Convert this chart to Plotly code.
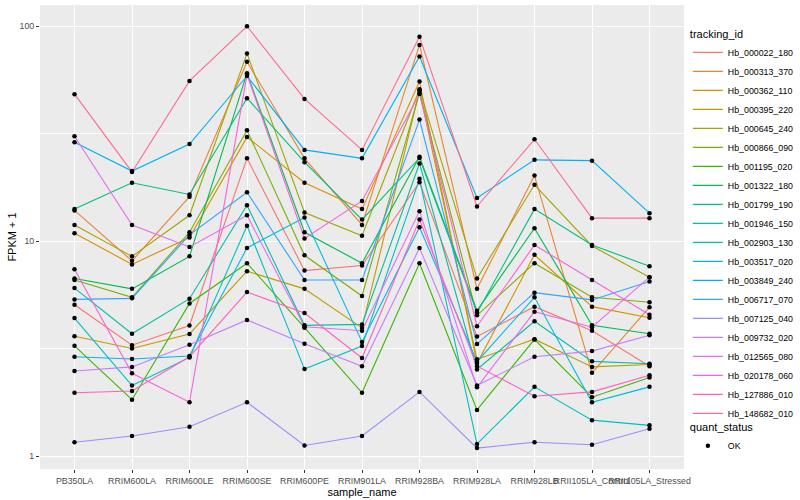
import plotly.graph_objects as go

# ---- data (values are FPKM + 1) ----
samples = ["PB350LA", "RRIM600LA", "RRIM600LE", "RRIM600SE", "RRIM600PE",
           "RRIM901LA", "RRIM928BA", "RRIM928LA", "RRIM928LB",
           "RRII105LA_Control", "RRII105LA_Stressed"]

tracking_ids = ["Hb_000022_180", "Hb_000313_370", "Hb_000362_110", "Hb_000395_220",
                "Hb_000645_240", "Hb_000866_090", "Hb_001195_020", "Hb_001322_180",
                "Hb_001799_190", "Hb_001946_150", "Hb_002903_130", "Hb_003517_020",
                "Hb_003849_240", "Hb_006717_070", "Hb_007125_040", "Hb_009732_020",
                "Hb_012565_080", "Hb_020178_060", "Hb_127886_010", "Hb_148682_010"]

hb_000022_180 = [5.06, 3.28, 4.05, 24.3, 7.3, 7.7, 18.8, 3.6, 4.96, 3.83, 2.62]
hb_000313_370 = [13.9, 8.1, 16.1, 68.4, 24.3, 11.9, 81.9, 6.0, 20.2, 2.44, 4.93]
hb_000362_110 = [10.9, 7.8, 10.4, 30.5, 18.7, 14.1, 55.3, 2.7, 8.65, 4.96, 4.4]
hb_000395_220 = [3.61, 3.17, 3.7, 7.25, 6.0, 3.95, 50.2, 2.82, 3.5, 2.6, 2.67]
hb_000645_240 = [11.9, 8.5, 13.2, 74.8, 13.6, 10.6, 50.9, 6.7, 18.3, 9.5, 6.8]
hb_000866_090 = [6.6, 5.48, 11.0, 32.8, 8.6, 5.56, 49.1, 4.52, 7.9, 5.48, 5.2]
hb_001195_020 = [3.26, 1.83, 5.13, 7.9, 3.96, 1.97, 7.9, 1.64, 3.49, 1.88, 2.32]
hb_001322_180 = [6.7, 6.0, 8.5, 60.5, 11.0, 7.9, 24.7, 4.75, 11.5, 4.06, 3.71]
hb_001799_190 = [14.1, 18.7, 16.5, 46.3, 23.3, 12.6, 24.4, 4.65, 14.1, 9.6, 7.65]
hb_001946_150 = [6.05, 3.71, 5.4, 14.7, 4.06, 4.1, 23.0, 2.53, 4.24, 2.76, 2.69]
hb_002903_130 = [4.39, 2.13, 2.88, 11.8, 2.54, 3.25, 19.5, 1.14, 2.1, 1.47, 1.39]
hb_003517_020 = [2.9, 2.83, 2.92, 9.3, 12.9, 3.4, 11.6, 2.75, 5.48, 1.78, 2.1]
hb_003849_240 = [28.9, 21.2, 28.3, 58.7, 26.6, 24.3, 72.3, 15.9, 23.9, 23.7, 13.5]
hb_006717_070 = [5.36, 5.42, 10.7, 16.9, 6.6, 6.6, 36.8, 3.32, 5.76, 5.33, 6.5]
hb_007125_040 = [1.16, 1.24, 1.37, 1.78, 1.12, 1.24, 1.99, 1.09, 1.16, 1.13, 1.34]
hb_009732_020 = [2.49, 2.6, 3.3, 4.3, 3.33, 2.62, 9.3, 2.13, 2.9, 3.08, 3.65]
hb_012565_080 = [30.8, 11.9, 9.4, 13.2, 4.0, 3.83, 13.8, 2.09, 4.7, 3.98, 6.8]
hb_020178_060 = [7.4, 2.43, 1.78, 59.6, 10.3, 15.4, 48.4, 4.02, 9.6, 6.6, 4.55]
hb_127886_010 = [1.97, 2.01, 2.9, 5.8, 4.63, 2.86, 12.6, 2.62, 1.9, 1.99, 2.38]
hb_148682_010 = [48.3, 21.0, 55.7, 100.0, 45.9, 26.6, 89.3, 14.5, 29.8, 12.8, 12.8]

series_values = [hb_000022_180, hb_000313_370, hb_000362_110, hb_000395_220,
                 hb_000645_240, hb_000866_090, hb_001195_020, hb_001322_180,
                 hb_001799_190, hb_001946_150, hb_002903_130, hb_003517_020,
                 hb_003849_240, hb_006717_070, hb_007125_040, hb_009732_020,
                 hb_012565_080, hb_020178_060, hb_127886_010, hb_148682_010]

y_tick_values = [1, 10, 100]
y_tick_labels = ["1", "10", "100"]
quant_status = "OK"

# ---- styles ----
colors = ["#F8766D", "#EA8331", "#D89000", "#C09B00", "#A3A500", "#7CAE00",
          "#39B600", "#00BB4E", "#00BF7D", "#00C1A3", "#00BFC4", "#00BAE0",
          "#00B0F6", "#35A2FF", "#9590FF", "#C77CFF", "#E76BF3", "#FA62DB",
          "#FF62BC", "#FF6C91"]

FONT = "Liberation Sans, Arial, Helvetica, sans-serif"

fig = go.Figure()
for name, vals, col in zip(tracking_ids, series_values, colors):
    fig.add_trace(go.Scatter(
        x=samples, y=vals, mode="lines", name=name,
        line=dict(color=col, width=1.1), legend="legend",
        hoverinfo="skip"))

all_x, all_y = [], []
for vals in series_values:
    all_x += samples
    all_y += vals
fig.add_trace(go.Scatter(
    x=all_x, y=all_y, mode="markers", name=quant_status,
    marker=dict(color="black", size=4.5, symbol="circle"),
    legend="legend2", hoverinfo="skip"))

fig.update_layout(
    width=800, height=500,
    margin=dict(l=40, r=116, t=5, b=31, autoexpand=False),
    paper_bgcolor="white", plot_bgcolor="#EBEBEB",
    font=dict(family=FONT, size=11, color="black"),
    showlegend=True,
    xaxis=dict(
        type="category", categoryorder="array", categoryarray=samples,
        range=[-0.6, 10.6], showgrid=True, gridcolor="white", gridwidth=1.1,
        zeroline=False, showline=False, ticks="outside", ticklen=3,
        tickcolor="#333333", tickwidth=1, tickangle=0,
        tickfont=dict(family=FONT, size=8.8, color="#4D4D4D"),
        title=dict(text="sample_name", font=dict(family=FONT, size=11, color="black"), standoff=0),
        automargin=False,
    ),
    yaxis=dict(
        type="log", range=[-0.06, 2.099],
        tickmode="array", tickvals=y_tick_values, ticktext=y_tick_labels,
        showgrid=True, gridcolor="white", gridwidth=1.1,
        minor=dict(tickmode="array", tickvals=[10 ** 0.5, 10 ** 1.5], showgrid=True,
                   gridcolor="white", gridwidth=0.55, ticks=""),
        zeroline=False, showline=False, ticks="outside", ticklen=3,
        tickcolor="#333333", tickwidth=1,
        tickfont=dict(family=FONT, size=8.8, color="#4D4D4D"),
        title=dict(text="FPKM + 1", font=dict(family=FONT, size=11, color="black"), standoff=0),
        automargin=False,
    ),
    legend=dict(
        title=dict(text="tracking_id", font=dict(family=FONT, size=11, color="black")),
        x=1.006, xanchor="left", y=0.96, yanchor="top",
        font=dict(family=FONT, size=8.8, color="black"),
        bgcolor="rgba(0,0,0,0)", tracegroupgap=0, itemwidth=30,
    ),
    legend2=dict(
        title=dict(text="quant_status", font=dict(family=FONT, size=11, color="black")),
        x=1.006, xanchor="left", y=0.112, yanchor="top",
        font=dict(family=FONT, size=8.8, color="black"),
        bgcolor="rgba(0,0,0,0)", itemwidth=30,
    ),
)

fig.write_html("out.html",
               config={"displayModeBar": False},
               post_script="document.body.style.margin='0px';"
                           "document.body.style.overflow='hidden';")
